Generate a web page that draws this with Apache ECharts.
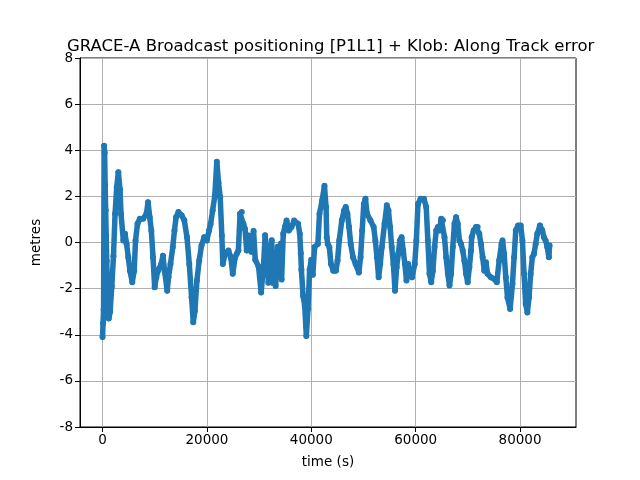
<!DOCTYPE html>
<html>
<head>
<meta charset="utf-8">
<script src="https://cdn.jsdelivr.net/npm/echarts@6/dist/echarts.min.js"></script>
<style>
  html, body { margin: 0; padding: 0; background: #fff; }
  #chart { width: 640px; height: 480px; }
</style>
</head>
<body>
<div id="chart"></div>
<script>
// time (s) of each point
var times = [
    0, 100, 200, 300, 400, 500, 600, 700, 800, 900, 1000, 1200, 1450, 1770, 2090, 2400, 2720, 3030, 3350, 3540,
    3980, 4300, 4610, 4930, 5250, 5690, 6070, 6320, 6700, 7140, 7770, 8410, 8720, 9040, 9350, 9670, 9990,
    10300, 10620, 11250, 11570, 11880, 12390, 12640, 13020, 13460, 13780, 14090, 14540, 15170, 15670, 16180,
    16620, 17060, 17380, 17700, 18080, 18520, 18960, 19470, 19970, 20410, 20700, 21100, 21500, 21900, 22220,
    22540, 22860, 23050, 23490, 24130, 24570, 24950, 25400, 25720, 26030, 26350, 26670, 26990, 27300, 27620,
    28000, 28500, 28940, 29260, 29890, 30390, 30840, 31150, 31470, 31780, 32100, 32420, 32540, 32920, 33170,
    33550, 33810, 34180, 34310, 34630, 34940, 35260, 35700, 36210, 36710, 37470, 37790, 37980, 38100, 38420,
    38740, 39050, 39370, 39680, 40000, 40300, 40630, 41260, 41570, 42080, 42520, 42830, 42960, 43150, 43460,
    43770, 44210, 44720, 45030, 45350, 45850, 46290, 46600, 46920, 47230, 47550, 47990, 48490, 49120, 49440,
    49750, 50060, 50380, 50690, 51320, 51950, 52270, 52580, 52900, 53210, 53520, 54030, 54470, 54780, 55100,
    55410, 55730, 56040, 56350, 56670, 56980, 57300, 57610, 57930, 58240, 58560, 58870, 59310, 59820, 60130,
    60440, 60950, 61580, 62020, 62330, 62650, 62980, 63300, 63620, 63940, 64250, 64570, 64890, 65210, 65520,
    65840, 66160, 66480, 66790, 67110, 67430, 67750, 68060, 68380, 68700, 69020, 69330, 69650, 69970, 70290,
    70600, 70730, 71110, 71560, 71870, 72190, 72510, 72830, 73140, 73460, 73780, 74410, 75050, 75550, 76000,
    76450, 76640, 76950, 77270, 77590, 78100, 78540, 78860, 79180, 79620, 80130, 80450, 80760, 81080, 81400,
    81720, 82030, 82350, 82670, 82990, 83300, 83810, 84260, 84570, 84890, 85210, 85530, 85650
];

// along track error (metres)
var errors = [
    -4.1, -3.5, -2.9, 4.2, 3.9, 2.5, 1.4, 0.3, -0.8, -1.6, -2.0, -3.3, -3.0, -1.9, -0.6, 1.25, 2.4, 3.05, 2.3, 1.25,
    0.09, 0.38, -0.06, -0.64, -1.22, -1.72, -1.22, 0.09, 0.81, 1.03, 1.03, 1.25, 1.75, 1.10, 0.52, -0.64, -1.94,
    -1.51, -1.22, -0.93, -0.57, -1.22, -2.09, -1.51, -0.93, -0.2, 0.52, 1.10, 1.32, 1.17, 0.96, 0.23,
    -0.93, -2.38, -3.46, -2.96, -1.65, -0.78, -0.13, 0.23, 0.09, 0.52, 0.8, 1.4, 2.0, 3.5, 2.6,
    1.97, 0.3, -0.93, -0.49, -0.35, -0.64, -1.36, -0.64, -0.49, -0.35, 1.25, 1.32, 0.81, 0.59, -0.35,
    0.3, -0.4, 0.5, -0.75, -1.04, -2.17, -1.04, 0.31, -0.47, -1.74, -0.75, 0.1, -1.74, -0.47, -1.89,
    -0.18, -1.18, -0.04, -1.6, 0.38, 0.67, 0.95, 0.52, 0.67, 0.95, 0.81, 0.38, -0.47, -1.18, -2.31,
    -2.74, -4.05, -2.88, -1.18, -0.75, -1.4, -0.2, -0.06, 1.25, 1.83, 2.46, 1.54, 0.23, -0.06, -0.2,
    -0.93, -1.22, -1.22, -0.78, 0.09, 0.96, 1.39, 1.54, 1.25, 0.67, -0.06, -0.64, -0.93, -1.30, -0.64,
    0.52, 1.67, 1.90, 1.25, 0.96, 0.67, 0.09, -0.64, -1.51, -0.93, -0.2, 0.81, 1.61, 1.39, 0.67,
    -0.2, -0.93, -2.09, -1.07, -0.49, 0.09, 0.23, -0.35, -0.93, -1.65, -0.93, -1.36, -1.51, -0.93, 0.09,
    1.67, 1.90, 1.90, 1.54, 0.09, -1.36, -1.72, -1.22, -0.2, 0.52, 0.67, 0.52, 1.03, 0.96, 0.23,
    -0.64, -1.36, -1.86, -1.36, -0.2, 0.81, 1.10, 0.81, 0.09, -0.06, -0.35, -0.78, -1.36, -1.72, -1.07,
    -0.35, 0.23, 0.52, 0.67, 0.67, 0.38, -0.06, -0.64, -1.22, -0.86, -1.36, -1.51, -1.58, -1.72, -0.78,
    -0.06, 0.09, -0.49, -1.51, -2.38, -2.88, -1.80, -0.64, 0.52, 0.74, 0.74, 0.09, -1.36, -2.67, -3.03,
    -2.38, -1.36, -0.64, -0.49, -0.06, 0.38, 0.74, 0.52, 0.23, 0.09, -0.2, -0.64, -0.13
];

var xTicks = [0, 20000, 40000, 60000, 80000];

var points = times.map(function (t, i) {
    return [t, errors[i]];
});

var myChart = echarts.init(document.getElementById('chart'));

var option = {
    backgroundColor: '#fff',
    animation: false,
    title: {
        text: 'GRACE-A Broadcast positioning [P1L1] + Klob: Along Track error',
        left: 62,
        top: 33,
        textStyle: {
            fontFamily: 'DejaVu Sans',
            fontWeight: 'normal',
            fontSize: 16.5,
            color: '#000'
        }
    },
    grid: {
        left: 80,
        right: 64,
        top: 58,
        bottom: 53,
        show: true,
        borderColor: '#000',
        borderWidth: 1,
        backgroundColor: 'transparent'
    },
    xAxis: {
        type: 'value',
        min: -4320,
        max: 90720,
        name: 'time (s)',
        nameLocation: 'middle',
        nameGap: 28,
        nameTextStyle: { fontFamily: 'DejaVu Sans', fontSize: 13.5, color: '#000' },
        axisLine: { onZero: false, lineStyle: { color: '#000', width: 1 } },
        axisTick: {
            customValues: xTicks,
            length: 5,
            lineStyle: { color: '#000' }
        },
        axisLabel: {
            customValues: xTicks,
            fontFamily: 'DejaVu Sans',
            fontSize: 13.5,
            color: '#000',
            margin: 6,
            formatter: function (v) {
                return String(v);
            }
        },
        splitLine: {
            show: true,
            lineStyle: { color: '#b0b0b0', width: 1 }
        }
    },
    yAxis: {
        type: 'value',
        min: -8,
        max: 8,
        interval: 2,
        name: 'metres',
        nameLocation: 'middle',
        nameGap: 37,
        nameTextStyle: { fontFamily: 'DejaVu Sans', fontSize: 13.5, color: '#000' },
        axisLine: { show: true, onZero: false, lineStyle: { color: '#000', width: 1 } },
        axisTick: {
            show: true,
            length: 5,
            lineStyle: { color: '#000' }
        },
        axisLabel: {
            fontFamily: 'DejaVu Sans',
            fontSize: 13.5,
            color: '#000',
            margin: 7
        },
        splitLine: {
            show: true,
            lineStyle: { color: '#b0b0b0', width: 1 }
        }
    },
    series: [
        {
            type: 'line',
            data: points,
            symbol: 'circle',
            symbolSize: 6,
            showAllSymbol: true,
            itemStyle: { color: '#1f77b4' },
            lineStyle: { color: '#1f77b4', width: 5.5, cap: 'round', join: 'round' }
        }
    ]
};

myChart.setOption(option);
</script>
</body>
</html>
